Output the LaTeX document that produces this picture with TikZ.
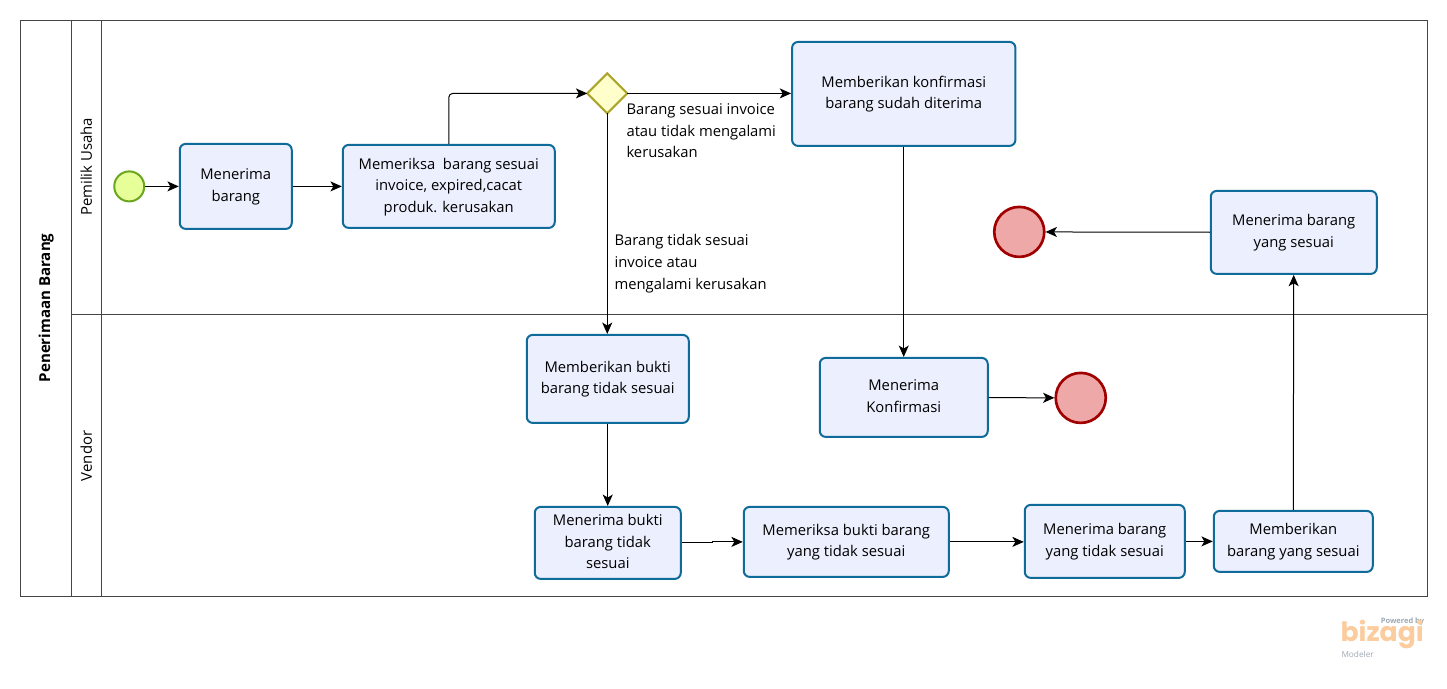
\documentclass[tikz,border=0pt]{standalone}
\usepackage{fontspec}
\setmainfont{Open Sans}
\newfontfamily\logofont{Poppins}
\usetikzlibrary{arrows.meta,shapes.geometric}
\definecolor{taskfill}{rgb}{0.925,0.937,0.992}
\definecolor{taskline}{rgb}{0.06,0.42,0.60}
\definecolor{startfill}{rgb}{0.902,1.,0.60}
\definecolor{startline}{rgb}{0.42,0.65,0.12}
\definecolor{gatefill}{rgb}{1.,1.,0.80}
\definecolor{gateline}{rgb}{0.67,0.65,0.17}
\definecolor{endfill}{rgb}{0.937,0.659,0.659}
\definecolor{endline}{rgb}{0.63,0.,0.}
\definecolor{poolline}{rgb}{0.27,0.27,0.27}
\definecolor{logoorange}{rgb}{0.98,0.80,0.62}
\definecolor{logogray}{rgb}{0.62,0.66,0.70}
\tikzset{
  task/.style={rectangle,draw=taskline,fill=taskfill,line width=1.5pt,rounded corners=4.5pt,align=center,inner sep=0pt,font=\fontsize{11.1}{16.1}\selectfont,text depth=2pt},
  startev/.style={circle,draw=startline,fill=startfill,line width=1.5pt,inner sep=0pt,minimum size=22.5pt},
  endev/.style={circle,draw=endline,fill=endfill,line width=2pt,inner sep=0pt,minimum size=37.5pt},
  gate/.style={diamond,draw=gateline,fill=gatefill,line width=1.5pt,inner sep=0pt,outer sep=0pt,minimum size=30pt},
  flow/.style={color=black,line width=0.75pt,-{Stealth[length=8.5pt,width=7.5pt,inset=2.2pt]}},
  lbl/.style={align=left,anchor=north west,inner sep=0pt,font=\fontsize{11.1}{16.3}\selectfont},
  lane/.style={rotate=90,inner sep=0pt,font=\fontsize{11.2}{14}\selectfont}
}
\begin{document}
\begin{tikzpicture}[x=0.75pt,y=-0.75pt]
\useasboundingbox (0.25,0.1) rectangle (1447.25,689.1);
% pool and lanes
\draw [color=poolline,line width=0.75pt] (20.5,21) rectangle (1427.5,597);
\draw [color=poolline,line width=0.75pt] (71.5,21) -- (71.5,597);
\draw [color=poolline,line width=0.75pt] (101.5,21) -- (101.5,597);
\draw [color=poolline,line width=0.75pt] (71.5,314.5) -- (1427.5,314.5);
\node [lane,font=\fontsize{11.3}{14}\bfseries] (poolname) at (46.5,308) {Penerimaan Barang};
\node [lane] (lanepemilik) at (86.5,167) {Pemilik Usaha};
\node [lane] (lanevendor) at (86.5,456) {Vendor};
% events and gateway
\node [startev] (start) at (129.5,186.5) {};
\node [gate] (cek) at (607.5,93.5) {};
\node [endev] (endpemilik) at (1019.5,232) {};
\node [endev] (endvendor) at (1081,398) {};
% tasks
\node [task,minimum width=84pt,minimum height=63.75pt] (terima) at (236,186.5) {Menerima\\barang};
\node [task,minimum width=159pt,minimum height=62.25pt] (periksa) at (449,186.5) {Memeriksa\ \ barang sesuai\\invoice, expired,cacat\\produk. kerusakan};
\node [task,minimum width=167.5pt,minimum height=78pt] (konfirmasi) at (904,94) {Memberikan konfirmasi\\barang sudah diterima};
\node [task,minimum width=124.5pt,minimum height=62.25pt] (sesuai) at (1294,232.5) {Menerima barang\\yang sesuai};
\node [task,minimum width=121.5pt,minimum height=66pt] (bukti) at (608,379) {Memberikan bukti\\barang tidak sesuai};
\node [task,minimum width=126pt,minimum height=59.25pt] (terimakonf) at (904,397.5) {Menerima\\Konfirmasi};
\node [task,minimum width=109.5pt,minimum height=54pt] (terimabukti) at (608,543) {Menerima bukti\\barang tidak\\sesuai};
\node [task,minimum width=153.75pt,minimum height=52.5pt] (periksabukti) at (846.5,542) {Memeriksa bukti barang\\yang tidak sesuai};
\node [task,minimum width=120pt,minimum height=54.75pt] (tidaksesuai) at (1105,541.5) {Menerima barang\\yang tidak sesuai};
\node [task,minimum width=119.25pt,minimum height=45.75pt] (beri) at (1293.5,541.5) {Memberikan\\barang yang sesuai};
% labels
\node [lbl] (lblya) at (626.5,103.5) {Barang sesuai invoice\\atau tidak mengalami\\kerusakan};
\node [lbl] (lbltidak) at (614.5,234.5) {Barang tidak sesuai\\invoice atau\\mengalami kerusakan};
% flows
\coordinate (jog) at (713,542.5);
\draw [flow] (start) -- (terima);
\draw [flow] (terima) -- (periksa);
\draw [flow,rounded corners=3pt] (periksa.north) |- (cek.west);
\draw [flow] (cek.east) -- (konfirmasi.west |- cek.east);
\draw [flow] (cek.south) -- (bukti.north -| cek.south);
\draw [flow] (konfirmasi) -- (terimakonf);
\draw [flow] (terimakonf) -- (endvendor);
\draw [flow] (bukti) -- (terimabukti);
\draw [flow] (terimabukti.east) -| (jog) |- (periksabukti.west);
\draw [flow] (periksabukti.east) -- (tidaksesuai.west |- periksabukti.east);
\draw [flow] (tidaksesuai) -- (beri);
\draw [flow] (beri) -- (sesuai);
\draw [flow] (sesuai) -- (endpemilik);
% logo
\node [anchor=east,inner sep=0pt,text=logogray,font=\fontsize{5.6}{7}\bfseries] (powered) at (1424.5,622) {Powered by};
\node [anchor=west,inner sep=0pt,text=logoorange,font=\logofont\fontsize{20}{24}\bfseries] (bizagi) at (1340.5,635) {bizagi};
\node [anchor=west,inner sep=0pt,text=logogray,font=\fontsize{6.2}{8}\selectfont] (modeler) at (1341.5,654) {Modeler};
\end{tikzpicture}
\end{document}
